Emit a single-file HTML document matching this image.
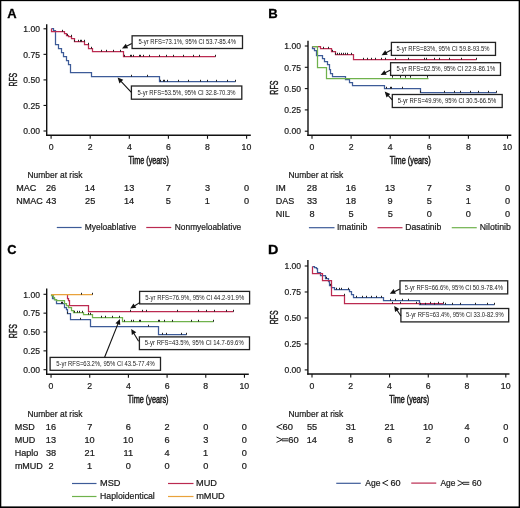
<!DOCTYPE html>
<html><head><meta charset="utf-8"><style>
html,body{margin:0;padding:0;background:#fff;width:520px;height:508px;overflow:hidden;}
svg{display:block;will-change:transform;}
text{font-family:"Liberation Sans",sans-serif;}
</style></head><body>
<svg width="520" height="508" viewBox="0 0 520 508">
<rect width="520" height="508" fill="#fff"/>
<text x="7.28" y="17.90" font-size="13.6" textLength="9.38" lengthAdjust="spacingAndGlyphs" fill="#000" font-weight="bold" stroke="#000" stroke-width="0.3">A</text>
<line x1="46.70" y1="24.30" x2="46.70" y2="136.00" stroke="#111" stroke-width="1.4"/>
<line x1="46.05" y1="135.30" x2="250.80" y2="135.30" stroke="#111" stroke-width="1.4"/>
<line x1="43.50" y1="131.00" x2="46.70" y2="131.00" stroke="#111" stroke-width="1.1"/>
<text x="23.28" y="134.20" font-size="9.2" textLength="16.65" lengthAdjust="spacingAndGlyphs" fill="#1a1a1a" stroke="#1a1a1a" stroke-width="0.22">0.00</text>
<line x1="43.50" y1="105.45" x2="46.70" y2="105.45" stroke="#111" stroke-width="1.1"/>
<text x="23.30" y="108.65" font-size="9.2" textLength="16.65" lengthAdjust="spacingAndGlyphs" fill="#1a1a1a" stroke="#1a1a1a" stroke-width="0.22">0.25</text>
<line x1="43.50" y1="79.90" x2="46.70" y2="79.90" stroke="#111" stroke-width="1.1"/>
<text x="23.28" y="83.10" font-size="9.2" textLength="16.65" lengthAdjust="spacingAndGlyphs" fill="#1a1a1a" stroke="#1a1a1a" stroke-width="0.22">0.50</text>
<line x1="43.50" y1="54.35" x2="46.70" y2="54.35" stroke="#111" stroke-width="1.1"/>
<text x="23.30" y="57.55" font-size="9.2" textLength="16.65" lengthAdjust="spacingAndGlyphs" fill="#1a1a1a" stroke="#1a1a1a" stroke-width="0.22">0.75</text>
<line x1="43.50" y1="28.80" x2="46.70" y2="28.80" stroke="#111" stroke-width="1.1"/>
<text x="23.28" y="32.00" font-size="9.2" textLength="16.65" lengthAdjust="spacingAndGlyphs" fill="#1a1a1a" stroke="#1a1a1a" stroke-width="0.22">1.00</text>
<line x1="51.10" y1="135.30" x2="51.10" y2="138.80" stroke="#111" stroke-width="1.1"/>
<text x="48.66" y="150.00" font-size="9.2" textLength="4.86" lengthAdjust="spacingAndGlyphs" fill="#1a1a1a" stroke="#1a1a1a" stroke-width="0.22">0</text>
<line x1="90.20" y1="135.30" x2="90.20" y2="138.80" stroke="#111" stroke-width="1.1"/>
<text x="87.77" y="150.00" font-size="9.2" textLength="4.86" lengthAdjust="spacingAndGlyphs" fill="#1a1a1a" stroke="#1a1a1a" stroke-width="0.22">2</text>
<line x1="129.30" y1="135.30" x2="129.30" y2="138.80" stroke="#111" stroke-width="1.1"/>
<text x="126.90" y="150.00" font-size="9.2" textLength="4.86" lengthAdjust="spacingAndGlyphs" fill="#1a1a1a" stroke="#1a1a1a" stroke-width="0.22">4</text>
<line x1="168.40" y1="135.30" x2="168.40" y2="138.80" stroke="#111" stroke-width="1.1"/>
<text x="165.94" y="150.00" font-size="9.2" textLength="4.86" lengthAdjust="spacingAndGlyphs" fill="#1a1a1a" stroke="#1a1a1a" stroke-width="0.22">6</text>
<line x1="207.50" y1="135.30" x2="207.50" y2="138.80" stroke="#111" stroke-width="1.1"/>
<text x="205.07" y="150.00" font-size="9.2" textLength="4.86" lengthAdjust="spacingAndGlyphs" fill="#1a1a1a" stroke="#1a1a1a" stroke-width="0.22">8</text>
<line x1="246.60" y1="135.30" x2="246.60" y2="138.80" stroke="#111" stroke-width="1.1"/>
<text x="241.59" y="150.00" font-size="9.2" textLength="9.72" lengthAdjust="spacingAndGlyphs" fill="#1a1a1a" stroke="#1a1a1a" stroke-width="0.22">10</text>
<text transform="translate(16.80,79.60) rotate(-90)" x="-6.96" y="0" font-size="11.0" textLength="13.67" lengthAdjust="spacingAndGlyphs" fill="#1a1a1a" stroke="#1a1a1a" stroke-width="0.45">RFS</text>
<text x="128.44" y="164.30" font-size="10.2" textLength="40.39" lengthAdjust="spacingAndGlyphs" fill="#1a1a1a" stroke="#1a1a1a" stroke-width="0.5">Time (years)</text>
<path d="M51.50 28.50H53.50V30.50H55.50V33.50H55.50V44.50H58.50V48.50H61.50V52.50H63.50V56.50H66.50V60.50H68.50V64.50H70.50V68.50H70.50V72.50H91.50V76.50H159.50V81.50H235.50" fill="none" stroke="#3d5b98" stroke-width="1.25"/>
<path d="M51.50 28.50H51.50V31.50H64.50V33.50H66.50V35.50H68.50V36.50H71.50V38.50H74.50V41.50H84.50V44.50H88.50V48.50H92.50V51.50H123.50V56.50H215.50" fill="none" stroke="#bb2a50" stroke-width="1.25"/>
<line x1="62.50" y1="29.80" x2="62.50" y2="31.70" stroke="#222" stroke-width="1.0"/>
<line x1="67.50" y1="33.80" x2="67.50" y2="35.70" stroke="#222" stroke-width="1.0"/>
<line x1="71.50" y1="34.80" x2="71.50" y2="36.70" stroke="#222" stroke-width="1.0"/>
<line x1="74.50" y1="39.80" x2="74.50" y2="41.70" stroke="#222" stroke-width="1.0"/>
<line x1="78.50" y1="39.80" x2="78.50" y2="41.70" stroke="#222" stroke-width="1.0"/>
<line x1="80.50" y1="39.80" x2="80.50" y2="41.70" stroke="#222" stroke-width="1.0"/>
<line x1="81.50" y1="39.80" x2="81.50" y2="41.70" stroke="#222" stroke-width="1.0"/>
<line x1="84.50" y1="39.80" x2="84.50" y2="41.70" stroke="#222" stroke-width="1.0"/>
<line x1="88.50" y1="42.80" x2="88.50" y2="44.70" stroke="#222" stroke-width="1.0"/>
<line x1="91.50" y1="46.80" x2="91.50" y2="48.70" stroke="#222" stroke-width="1.0"/>
<line x1="101.50" y1="49.80" x2="101.50" y2="51.70" stroke="#222" stroke-width="1.0"/>
<line x1="106.50" y1="49.80" x2="106.50" y2="51.70" stroke="#222" stroke-width="1.0"/>
<line x1="113.50" y1="49.80" x2="113.50" y2="51.70" stroke="#222" stroke-width="1.0"/>
<line x1="120.50" y1="49.80" x2="120.50" y2="51.70" stroke="#222" stroke-width="1.0"/>
<line x1="124.50" y1="54.80" x2="124.50" y2="56.70" stroke="#222" stroke-width="1.0"/>
<line x1="130.50" y1="54.80" x2="130.50" y2="56.70" stroke="#222" stroke-width="1.0"/>
<line x1="131.50" y1="54.80" x2="131.50" y2="56.70" stroke="#222" stroke-width="1.0"/>
<line x1="133.50" y1="54.80" x2="133.50" y2="56.70" stroke="#222" stroke-width="1.0"/>
<line x1="139.50" y1="54.80" x2="139.50" y2="56.70" stroke="#222" stroke-width="1.0"/>
<line x1="140.50" y1="54.80" x2="140.50" y2="56.70" stroke="#222" stroke-width="1.0"/>
<line x1="143.50" y1="54.80" x2="143.50" y2="56.70" stroke="#222" stroke-width="1.0"/>
<line x1="149.50" y1="54.80" x2="149.50" y2="56.70" stroke="#222" stroke-width="1.0"/>
<line x1="159.50" y1="54.80" x2="159.50" y2="56.70" stroke="#222" stroke-width="1.0"/>
<line x1="166.50" y1="54.80" x2="166.50" y2="56.70" stroke="#222" stroke-width="1.0"/>
<line x1="173.50" y1="54.80" x2="173.50" y2="56.70" stroke="#222" stroke-width="1.0"/>
<line x1="183.50" y1="54.80" x2="183.50" y2="56.70" stroke="#222" stroke-width="1.0"/>
<line x1="193.50" y1="54.80" x2="193.50" y2="56.70" stroke="#222" stroke-width="1.0"/>
<line x1="199.50" y1="54.80" x2="199.50" y2="56.70" stroke="#222" stroke-width="1.0"/>
<line x1="215.50" y1="54.80" x2="215.50" y2="56.70" stroke="#222" stroke-width="1.0"/>
<line x1="131.50" y1="74.80" x2="131.50" y2="76.70" stroke="#222" stroke-width="1.0"/>
<line x1="147.50" y1="74.80" x2="147.50" y2="76.70" stroke="#222" stroke-width="1.0"/>
<line x1="160.50" y1="79.80" x2="160.50" y2="81.70" stroke="#222" stroke-width="1.0"/>
<line x1="163.50" y1="79.80" x2="163.50" y2="81.70" stroke="#222" stroke-width="1.0"/>
<line x1="164.50" y1="79.80" x2="164.50" y2="81.70" stroke="#222" stroke-width="1.0"/>
<line x1="167.50" y1="79.80" x2="167.50" y2="81.70" stroke="#222" stroke-width="1.0"/>
<line x1="178.50" y1="79.80" x2="178.50" y2="81.70" stroke="#222" stroke-width="1.0"/>
<line x1="188.50" y1="79.80" x2="188.50" y2="81.70" stroke="#222" stroke-width="1.0"/>
<line x1="200.50" y1="79.80" x2="200.50" y2="81.70" stroke="#222" stroke-width="1.0"/>
<line x1="207.50" y1="79.80" x2="207.50" y2="81.70" stroke="#222" stroke-width="1.0"/>
<line x1="216.50" y1="79.80" x2="216.50" y2="81.70" stroke="#222" stroke-width="1.0"/>
<line x1="227.50" y1="79.80" x2="227.50" y2="81.70" stroke="#222" stroke-width="1.0"/>
<line x1="235.50" y1="79.80" x2="235.50" y2="81.70" stroke="#222" stroke-width="1.0"/>
<rect x="132.10" y="35.80" width="110.40" height="12.70" fill="#fff" stroke="#222" stroke-width="1.3"/>
<text x="138.52" y="44.35" font-size="6.3" textLength="97.44" lengthAdjust="spacingAndGlyphs" fill="#222">5-yr RFS=73.1%, 95% CI 53.7-85.4%</text>
<line x1="131.80" y1="43.60" x2="126.49" y2="46.20" stroke="#111" stroke-width="1.1"/>
<path d="M122.00 48.40L125.80 43.65L128.08 48.32Z" fill="#111"/>
<rect x="131.40" y="86.00" width="110.40" height="13.20" fill="#fff" stroke="#222" stroke-width="1.3"/>
<text x="137.56" y="94.80" font-size="6.3" textLength="97.94" lengthAdjust="spacingAndGlyphs" fill="#222">5-yr RFS=53.5%, 95% CI 32.8-70.3%</text>
<line x1="131.40" y1="92.40" x2="121.01" y2="81.26" stroke="#111" stroke-width="1.1"/>
<path d="M117.60 77.60L123.25 79.85L119.45 83.40Z" fill="#111"/>
<text x="27.50" y="177.90" font-size="9.0" textLength="54.99" lengthAdjust="spacingAndGlyphs" fill="#1a1a1a" stroke="#1a1a1a" stroke-width="0.22">Number at risk</text>
<text x="16.36" y="191.00" font-size="9.0" textLength="20.00" lengthAdjust="spacingAndGlyphs" fill="#1a1a1a" stroke="#1a1a1a" stroke-width="0.22">MAC</text>
<text x="45.97" y="191.00" font-size="9.0" textLength="10.21" lengthAdjust="spacingAndGlyphs" fill="#1a1a1a" stroke="#1a1a1a" stroke-width="0.22">26</text>
<text x="84.89" y="191.00" font-size="9.0" textLength="10.21" lengthAdjust="spacingAndGlyphs" fill="#1a1a1a" stroke="#1a1a1a" stroke-width="0.22">14</text>
<text x="124.06" y="191.00" font-size="9.0" textLength="10.21" lengthAdjust="spacingAndGlyphs" fill="#1a1a1a" stroke="#1a1a1a" stroke-width="0.22">13</text>
<text x="165.85" y="191.00" font-size="9.0" textLength="5.11" lengthAdjust="spacingAndGlyphs" fill="#1a1a1a" stroke="#1a1a1a" stroke-width="0.22">7</text>
<text x="204.98" y="191.00" font-size="9.0" textLength="5.11" lengthAdjust="spacingAndGlyphs" fill="#1a1a1a" stroke="#1a1a1a" stroke-width="0.22">3</text>
<text x="244.04" y="191.00" font-size="9.0" textLength="5.11" lengthAdjust="spacingAndGlyphs" fill="#1a1a1a" stroke="#1a1a1a" stroke-width="0.22">0</text>
<text x="16.36" y="203.90" font-size="9.0" textLength="26.50" lengthAdjust="spacingAndGlyphs" fill="#1a1a1a" stroke="#1a1a1a" stroke-width="0.22">NMAC</text>
<text x="46.10" y="203.90" font-size="9.0" textLength="10.21" lengthAdjust="spacingAndGlyphs" fill="#1a1a1a" stroke="#1a1a1a" stroke-width="0.22">43</text>
<text x="85.06" y="203.90" font-size="9.0" textLength="10.21" lengthAdjust="spacingAndGlyphs" fill="#1a1a1a" stroke="#1a1a1a" stroke-width="0.22">25</text>
<text x="123.99" y="203.90" font-size="9.0" textLength="10.21" lengthAdjust="spacingAndGlyphs" fill="#1a1a1a" stroke="#1a1a1a" stroke-width="0.22">14</text>
<text x="165.85" y="203.90" font-size="9.0" textLength="5.11" lengthAdjust="spacingAndGlyphs" fill="#1a1a1a" stroke="#1a1a1a" stroke-width="0.22">5</text>
<text x="204.83" y="203.90" font-size="9.0" textLength="5.11" lengthAdjust="spacingAndGlyphs" fill="#1a1a1a" stroke="#1a1a1a" stroke-width="0.22">1</text>
<text x="244.04" y="203.90" font-size="9.0" textLength="5.11" lengthAdjust="spacingAndGlyphs" fill="#1a1a1a" stroke="#1a1a1a" stroke-width="0.22">0</text>
<line x1="56.80" y1="227.50" x2="81.60" y2="227.50" stroke="#3d5b98" stroke-width="1.2"/>
<text x="84.81" y="230.20" font-size="9.4" textLength="51.32" lengthAdjust="spacingAndGlyphs" fill="#1a1a1a" stroke="#1a1a1a" stroke-width="0.22">Myeloablative</text>
<line x1="146.25" y1="227.50" x2="171.25" y2="227.50" stroke="#bb2a50" stroke-width="1.2"/>
<text x="174.81" y="230.20" font-size="9.4" textLength="66.46" lengthAdjust="spacingAndGlyphs" fill="#1a1a1a" stroke="#1a1a1a" stroke-width="0.22">Nonmyeloablative</text>
<text x="268.21" y="17.90" font-size="13.6" textLength="9.47" lengthAdjust="spacingAndGlyphs" fill="#000" font-weight="bold" stroke="#000" stroke-width="0.3">B</text>
<line x1="308.00" y1="40.80" x2="308.00" y2="135.90" stroke="#111" stroke-width="1.4"/>
<line x1="307.35" y1="135.20" x2="511.30" y2="135.20" stroke="#111" stroke-width="1.4"/>
<line x1="304.80" y1="131.20" x2="308.00" y2="131.20" stroke="#111" stroke-width="1.1"/>
<text x="284.28" y="134.40" font-size="9.2" textLength="16.65" lengthAdjust="spacingAndGlyphs" fill="#1a1a1a" stroke="#1a1a1a" stroke-width="0.22">0.00</text>
<line x1="304.80" y1="109.90" x2="308.00" y2="109.90" stroke="#111" stroke-width="1.1"/>
<text x="284.30" y="113.10" font-size="9.2" textLength="16.65" lengthAdjust="spacingAndGlyphs" fill="#1a1a1a" stroke="#1a1a1a" stroke-width="0.22">0.25</text>
<line x1="304.80" y1="88.60" x2="308.00" y2="88.60" stroke="#111" stroke-width="1.1"/>
<text x="284.28" y="91.80" font-size="9.2" textLength="16.65" lengthAdjust="spacingAndGlyphs" fill="#1a1a1a" stroke="#1a1a1a" stroke-width="0.22">0.50</text>
<line x1="304.80" y1="67.30" x2="308.00" y2="67.30" stroke="#111" stroke-width="1.1"/>
<text x="284.30" y="70.50" font-size="9.2" textLength="16.65" lengthAdjust="spacingAndGlyphs" fill="#1a1a1a" stroke="#1a1a1a" stroke-width="0.22">0.75</text>
<line x1="304.80" y1="46.00" x2="308.00" y2="46.00" stroke="#111" stroke-width="1.1"/>
<text x="284.28" y="49.20" font-size="9.2" textLength="16.65" lengthAdjust="spacingAndGlyphs" fill="#1a1a1a" stroke="#1a1a1a" stroke-width="0.22">1.00</text>
<line x1="312.00" y1="135.20" x2="312.00" y2="138.70" stroke="#111" stroke-width="1.1"/>
<text x="309.56" y="150.00" font-size="9.2" textLength="4.86" lengthAdjust="spacingAndGlyphs" fill="#1a1a1a" stroke="#1a1a1a" stroke-width="0.22">0</text>
<line x1="351.10" y1="135.20" x2="351.10" y2="138.70" stroke="#111" stroke-width="1.1"/>
<text x="348.67" y="150.00" font-size="9.2" textLength="4.86" lengthAdjust="spacingAndGlyphs" fill="#1a1a1a" stroke="#1a1a1a" stroke-width="0.22">2</text>
<line x1="390.20" y1="135.20" x2="390.20" y2="138.70" stroke="#111" stroke-width="1.1"/>
<text x="387.80" y="150.00" font-size="9.2" textLength="4.86" lengthAdjust="spacingAndGlyphs" fill="#1a1a1a" stroke="#1a1a1a" stroke-width="0.22">4</text>
<line x1="429.30" y1="135.20" x2="429.30" y2="138.70" stroke="#111" stroke-width="1.1"/>
<text x="426.84" y="150.00" font-size="9.2" textLength="4.86" lengthAdjust="spacingAndGlyphs" fill="#1a1a1a" stroke="#1a1a1a" stroke-width="0.22">6</text>
<line x1="468.40" y1="135.20" x2="468.40" y2="138.70" stroke="#111" stroke-width="1.1"/>
<text x="465.97" y="150.00" font-size="9.2" textLength="4.86" lengthAdjust="spacingAndGlyphs" fill="#1a1a1a" stroke="#1a1a1a" stroke-width="0.22">8</text>
<line x1="507.50" y1="135.20" x2="507.50" y2="138.70" stroke="#111" stroke-width="1.1"/>
<text x="502.49" y="150.00" font-size="9.2" textLength="9.72" lengthAdjust="spacingAndGlyphs" fill="#1a1a1a" stroke="#1a1a1a" stroke-width="0.22">10</text>
<text transform="translate(278.00,87.50) rotate(-90)" x="-7.18" y="0" font-size="11.0" textLength="14.10" lengthAdjust="spacingAndGlyphs" fill="#1a1a1a" stroke="#1a1a1a" stroke-width="0.45">RFS</text>
<text x="389.73" y="164.30" font-size="10.2" textLength="40.90" lengthAdjust="spacingAndGlyphs" fill="#1a1a1a" stroke="#1a1a1a" stroke-width="0.5">Time (years)</text>
<path d="M312.50 46.50H312.50V48.50H314.50V50.50H316.50V55.50H322.50V58.50H324.50V61.50H327.50V64.50H329.50V69.50H330.50V73.50H332.50V76.50H345.50V79.50H349.50V82.50H352.50V85.50H384.50V88.50H420.50V92.50H496.50" fill="none" stroke="#3d5b98" stroke-width="1.25"/>
<path d="M312.50 46.50H320.50V48.50H331.50V51.50H335.50V54.50H353.50V59.50H476.50" fill="none" stroke="#bb2a50" stroke-width="1.25"/>
<path d="M312.50 46.50H317.50V67.50H326.50V78.50H428.50" fill="none" stroke="#6fb24c" stroke-width="1.25"/>
<line x1="337.50" y1="52.80" x2="337.50" y2="54.70" stroke="#222" stroke-width="1.0"/>
<line x1="339.50" y1="52.80" x2="339.50" y2="54.70" stroke="#222" stroke-width="1.0"/>
<line x1="341.50" y1="52.80" x2="341.50" y2="54.70" stroke="#222" stroke-width="1.0"/>
<line x1="343.50" y1="52.80" x2="343.50" y2="54.70" stroke="#222" stroke-width="1.0"/>
<line x1="345.50" y1="52.80" x2="345.50" y2="54.70" stroke="#222" stroke-width="1.0"/>
<line x1="347.50" y1="52.80" x2="347.50" y2="54.70" stroke="#222" stroke-width="1.0"/>
<line x1="351.50" y1="52.80" x2="351.50" y2="54.70" stroke="#222" stroke-width="1.0"/>
<line x1="363.50" y1="57.80" x2="363.50" y2="59.70" stroke="#222" stroke-width="1.0"/>
<line x1="367.50" y1="57.80" x2="367.50" y2="59.70" stroke="#222" stroke-width="1.0"/>
<line x1="371.50" y1="57.80" x2="371.50" y2="59.70" stroke="#222" stroke-width="1.0"/>
<line x1="375.50" y1="57.80" x2="375.50" y2="59.70" stroke="#222" stroke-width="1.0"/>
<line x1="381.50" y1="57.80" x2="381.50" y2="59.70" stroke="#222" stroke-width="1.0"/>
<line x1="385.50" y1="57.80" x2="385.50" y2="59.70" stroke="#222" stroke-width="1.0"/>
<line x1="395.50" y1="57.80" x2="395.50" y2="59.70" stroke="#222" stroke-width="1.0"/>
<line x1="408.50" y1="57.80" x2="408.50" y2="59.70" stroke="#222" stroke-width="1.0"/>
<line x1="424.50" y1="57.80" x2="424.50" y2="59.70" stroke="#222" stroke-width="1.0"/>
<line x1="426.50" y1="57.80" x2="426.50" y2="59.70" stroke="#222" stroke-width="1.0"/>
<line x1="434.50" y1="57.80" x2="434.50" y2="59.70" stroke="#222" stroke-width="1.0"/>
<line x1="439.50" y1="57.80" x2="439.50" y2="59.70" stroke="#222" stroke-width="1.0"/>
<line x1="449.50" y1="57.80" x2="449.50" y2="59.70" stroke="#222" stroke-width="1.0"/>
<line x1="461.50" y1="57.80" x2="461.50" y2="59.70" stroke="#222" stroke-width="1.0"/>
<line x1="476.50" y1="57.80" x2="476.50" y2="59.70" stroke="#222" stroke-width="1.0"/>
<line x1="323.50" y1="46.80" x2="323.50" y2="48.70" stroke="#222" stroke-width="1.0"/>
<line x1="328.50" y1="46.80" x2="328.50" y2="48.70" stroke="#222" stroke-width="1.0"/>
<line x1="332.50" y1="49.80" x2="332.50" y2="51.70" stroke="#222" stroke-width="1.0"/>
<line x1="335.50" y1="52.80" x2="335.50" y2="54.70" stroke="#222" stroke-width="1.0"/>
<line x1="392.50" y1="75.80" x2="392.50" y2="77.70" stroke="#222" stroke-width="1.0"/>
<line x1="400.50" y1="75.80" x2="400.50" y2="77.70" stroke="#222" stroke-width="1.0"/>
<line x1="405.50" y1="75.80" x2="405.50" y2="77.70" stroke="#222" stroke-width="1.0"/>
<line x1="410.50" y1="75.80" x2="410.50" y2="77.70" stroke="#222" stroke-width="1.0"/>
<line x1="427.50" y1="75.80" x2="427.50" y2="77.70" stroke="#222" stroke-width="1.0"/>
<line x1="386.50" y1="86.80" x2="386.50" y2="88.70" stroke="#222" stroke-width="1.0"/>
<line x1="390.50" y1="86.80" x2="390.50" y2="88.70" stroke="#222" stroke-width="1.0"/>
<line x1="391.50" y1="86.80" x2="391.50" y2="88.70" stroke="#222" stroke-width="1.0"/>
<line x1="402.50" y1="86.80" x2="402.50" y2="88.70" stroke="#222" stroke-width="1.0"/>
<line x1="420.50" y1="90.80" x2="420.50" y2="92.70" stroke="#222" stroke-width="1.0"/>
<line x1="444.50" y1="90.80" x2="444.50" y2="92.70" stroke="#222" stroke-width="1.0"/>
<line x1="454.50" y1="90.80" x2="454.50" y2="92.70" stroke="#222" stroke-width="1.0"/>
<line x1="460.50" y1="90.80" x2="460.50" y2="92.70" stroke="#222" stroke-width="1.0"/>
<line x1="470.50" y1="90.80" x2="470.50" y2="92.70" stroke="#222" stroke-width="1.0"/>
<line x1="478.50" y1="90.80" x2="478.50" y2="92.70" stroke="#222" stroke-width="1.0"/>
<line x1="488.50" y1="90.80" x2="488.50" y2="92.70" stroke="#222" stroke-width="1.0"/>
<line x1="496.50" y1="90.80" x2="496.50" y2="92.70" stroke="#222" stroke-width="1.0"/>
<rect x="391.40" y="42.40" width="104.10" height="13.00" fill="#fff" stroke="#222" stroke-width="1.3"/>
<text x="396.51" y="51.10" font-size="6.3" textLength="92.93" lengthAdjust="spacingAndGlyphs" fill="#222">5-yr RFS=83%, 95% CI 59.8-93.5%</text>
<line x1="391.20" y1="50.00" x2="386.00" y2="52.82" stroke="#111" stroke-width="1.1"/>
<path d="M381.60 55.20L385.20 50.29L387.67 54.87Z" fill="#111"/>
<rect x="390.60" y="62.70" width="109.90" height="12.70" fill="#fff" stroke="#222" stroke-width="1.3"/>
<text x="396.51" y="71.25" font-size="6.3" textLength="98.69" lengthAdjust="spacingAndGlyphs" fill="#222">5-yr RFS=62.5%, 95% CI 22.9-86.1%</text>
<line x1="390.60" y1="70.00" x2="385.09" y2="72.70" stroke="#111" stroke-width="1.1"/>
<path d="M380.60 74.90L384.39 70.15L386.68 74.81Z" fill="#111"/>
<rect x="392.30" y="94.50" width="109.90" height="13.00" fill="#fff" stroke="#222" stroke-width="1.3"/>
<text x="397.76" y="103.20" font-size="6.3" textLength="98.44" lengthAdjust="spacingAndGlyphs" fill="#222">5-yr RFS=49.9%, 95% CI 30.5-66.5%</text>
<line x1="392.20" y1="99.80" x2="388.07" y2="95.29" stroke="#111" stroke-width="1.1"/>
<path d="M384.70 91.60L390.33 93.90L386.49 97.41Z" fill="#111"/>
<text x="288.56" y="177.70" font-size="9.0" textLength="54.69" lengthAdjust="spacingAndGlyphs" fill="#1a1a1a" stroke="#1a1a1a" stroke-width="0.22">Number at risk</text>
<text x="275.67" y="190.80" font-size="9.0" textLength="10.00" lengthAdjust="spacingAndGlyphs" fill="#1a1a1a" stroke="#1a1a1a" stroke-width="0.22">IM</text>
<text x="306.87" y="190.80" font-size="9.0" textLength="10.21" lengthAdjust="spacingAndGlyphs" fill="#1a1a1a" stroke="#1a1a1a" stroke-width="0.22">28</text>
<text x="345.86" y="190.80" font-size="9.0" textLength="10.21" lengthAdjust="spacingAndGlyphs" fill="#1a1a1a" stroke="#1a1a1a" stroke-width="0.22">16</text>
<text x="384.96" y="190.80" font-size="9.0" textLength="10.21" lengthAdjust="spacingAndGlyphs" fill="#1a1a1a" stroke="#1a1a1a" stroke-width="0.22">13</text>
<text x="426.75" y="190.80" font-size="9.0" textLength="5.11" lengthAdjust="spacingAndGlyphs" fill="#1a1a1a" stroke="#1a1a1a" stroke-width="0.22">7</text>
<text x="465.88" y="190.80" font-size="9.0" textLength="5.11" lengthAdjust="spacingAndGlyphs" fill="#1a1a1a" stroke="#1a1a1a" stroke-width="0.22">3</text>
<text x="504.94" y="190.80" font-size="9.0" textLength="5.11" lengthAdjust="spacingAndGlyphs" fill="#1a1a1a" stroke="#1a1a1a" stroke-width="0.22">0</text>
<text x="275.76" y="204.00" font-size="9.0" textLength="18.51" lengthAdjust="spacingAndGlyphs" fill="#1a1a1a" stroke="#1a1a1a" stroke-width="0.22">DAS</text>
<text x="306.93" y="204.00" font-size="9.0" textLength="10.21" lengthAdjust="spacingAndGlyphs" fill="#1a1a1a" stroke="#1a1a1a" stroke-width="0.22">33</text>
<text x="345.86" y="204.00" font-size="9.0" textLength="10.21" lengthAdjust="spacingAndGlyphs" fill="#1a1a1a" stroke="#1a1a1a" stroke-width="0.22">18</text>
<text x="387.64" y="204.00" font-size="9.0" textLength="5.11" lengthAdjust="spacingAndGlyphs" fill="#1a1a1a" stroke="#1a1a1a" stroke-width="0.22">9</text>
<text x="426.75" y="204.00" font-size="9.0" textLength="5.11" lengthAdjust="spacingAndGlyphs" fill="#1a1a1a" stroke="#1a1a1a" stroke-width="0.22">5</text>
<text x="465.73" y="204.00" font-size="9.0" textLength="5.11" lengthAdjust="spacingAndGlyphs" fill="#1a1a1a" stroke="#1a1a1a" stroke-width="0.22">1</text>
<text x="504.94" y="204.00" font-size="9.0" textLength="5.11" lengthAdjust="spacingAndGlyphs" fill="#1a1a1a" stroke="#1a1a1a" stroke-width="0.22">0</text>
<text x="275.76" y="217.20" font-size="9.0" textLength="14.01" lengthAdjust="spacingAndGlyphs" fill="#1a1a1a" stroke="#1a1a1a" stroke-width="0.22">NIL</text>
<text x="309.45" y="217.20" font-size="9.0" textLength="5.11" lengthAdjust="spacingAndGlyphs" fill="#1a1a1a" stroke="#1a1a1a" stroke-width="0.22">8</text>
<text x="348.55" y="217.20" font-size="9.0" textLength="5.11" lengthAdjust="spacingAndGlyphs" fill="#1a1a1a" stroke="#1a1a1a" stroke-width="0.22">5</text>
<text x="387.65" y="217.20" font-size="9.0" textLength="5.11" lengthAdjust="spacingAndGlyphs" fill="#1a1a1a" stroke="#1a1a1a" stroke-width="0.22">5</text>
<text x="426.74" y="217.20" font-size="9.0" textLength="5.11" lengthAdjust="spacingAndGlyphs" fill="#1a1a1a" stroke="#1a1a1a" stroke-width="0.22">0</text>
<text x="465.84" y="217.20" font-size="9.0" textLength="5.11" lengthAdjust="spacingAndGlyphs" fill="#1a1a1a" stroke="#1a1a1a" stroke-width="0.22">0</text>
<text x="504.94" y="217.20" font-size="9.0" textLength="5.11" lengthAdjust="spacingAndGlyphs" fill="#1a1a1a" stroke="#1a1a1a" stroke-width="0.22">0</text>
<line x1="308.90" y1="227.70" x2="334.50" y2="227.70" stroke="#3d5b98" stroke-width="1.2"/>
<text x="336.90" y="230.40" font-size="9.4" textLength="30.47" lengthAdjust="spacingAndGlyphs" fill="#1a1a1a" stroke="#1a1a1a" stroke-width="0.22">Imatinib</text>
<line x1="377.50" y1="227.70" x2="402.50" y2="227.70" stroke="#bb2a50" stroke-width="1.2"/>
<text x="405.29" y="230.40" font-size="9.4" textLength="36.07" lengthAdjust="spacingAndGlyphs" fill="#1a1a1a" stroke="#1a1a1a" stroke-width="0.22">Dasatinib</text>
<line x1="451.75" y1="227.70" x2="476.75" y2="227.70" stroke="#6fb24c" stroke-width="1.2"/>
<text x="479.78" y="230.40" font-size="9.4" textLength="31.09" lengthAdjust="spacingAndGlyphs" fill="#1a1a1a" stroke="#1a1a1a" stroke-width="0.22">Nilotinib</text>
<text x="7.19" y="254.00" font-size="13.6" textLength="9.26" lengthAdjust="spacingAndGlyphs" fill="#000" font-weight="bold" stroke="#000" stroke-width="0.3">C</text>
<line x1="46.70" y1="288.60" x2="46.70" y2="374.90" stroke="#111" stroke-width="1.4"/>
<line x1="46.05" y1="374.20" x2="248.80" y2="374.20" stroke="#111" stroke-width="1.4"/>
<line x1="43.50" y1="369.70" x2="46.70" y2="369.70" stroke="#111" stroke-width="1.1"/>
<text x="23.28" y="372.90" font-size="9.2" textLength="16.65" lengthAdjust="spacingAndGlyphs" fill="#1a1a1a" stroke="#1a1a1a" stroke-width="0.22">0.00</text>
<line x1="43.50" y1="350.85" x2="46.70" y2="350.85" stroke="#111" stroke-width="1.1"/>
<text x="23.30" y="354.05" font-size="9.2" textLength="16.65" lengthAdjust="spacingAndGlyphs" fill="#1a1a1a" stroke="#1a1a1a" stroke-width="0.22">0.25</text>
<line x1="43.50" y1="332.00" x2="46.70" y2="332.00" stroke="#111" stroke-width="1.1"/>
<text x="23.28" y="335.20" font-size="9.2" textLength="16.65" lengthAdjust="spacingAndGlyphs" fill="#1a1a1a" stroke="#1a1a1a" stroke-width="0.22">0.50</text>
<line x1="43.50" y1="313.15" x2="46.70" y2="313.15" stroke="#111" stroke-width="1.1"/>
<text x="23.30" y="316.35" font-size="9.2" textLength="16.65" lengthAdjust="spacingAndGlyphs" fill="#1a1a1a" stroke="#1a1a1a" stroke-width="0.22">0.75</text>
<line x1="43.50" y1="294.30" x2="46.70" y2="294.30" stroke="#111" stroke-width="1.1"/>
<text x="23.28" y="297.50" font-size="9.2" textLength="16.65" lengthAdjust="spacingAndGlyphs" fill="#1a1a1a" stroke="#1a1a1a" stroke-width="0.22">1.00</text>
<line x1="51.05" y1="374.20" x2="51.05" y2="377.70" stroke="#111" stroke-width="1.1"/>
<text x="48.61" y="388.80" font-size="9.2" textLength="4.86" lengthAdjust="spacingAndGlyphs" fill="#1a1a1a" stroke="#1a1a1a" stroke-width="0.22">0</text>
<line x1="89.73" y1="374.20" x2="89.73" y2="377.70" stroke="#111" stroke-width="1.1"/>
<text x="87.30" y="388.80" font-size="9.2" textLength="4.86" lengthAdjust="spacingAndGlyphs" fill="#1a1a1a" stroke="#1a1a1a" stroke-width="0.22">2</text>
<line x1="128.41" y1="374.20" x2="128.41" y2="377.70" stroke="#111" stroke-width="1.1"/>
<text x="126.01" y="388.80" font-size="9.2" textLength="4.86" lengthAdjust="spacingAndGlyphs" fill="#1a1a1a" stroke="#1a1a1a" stroke-width="0.22">4</text>
<line x1="167.09" y1="374.20" x2="167.09" y2="377.70" stroke="#111" stroke-width="1.1"/>
<text x="164.63" y="388.80" font-size="9.2" textLength="4.86" lengthAdjust="spacingAndGlyphs" fill="#1a1a1a" stroke="#1a1a1a" stroke-width="0.22">6</text>
<line x1="205.77" y1="374.20" x2="205.77" y2="377.70" stroke="#111" stroke-width="1.1"/>
<text x="203.34" y="388.80" font-size="9.2" textLength="4.86" lengthAdjust="spacingAndGlyphs" fill="#1a1a1a" stroke="#1a1a1a" stroke-width="0.22">8</text>
<line x1="244.45" y1="374.20" x2="244.45" y2="377.70" stroke="#111" stroke-width="1.1"/>
<text x="239.44" y="388.80" font-size="9.2" textLength="9.72" lengthAdjust="spacingAndGlyphs" fill="#1a1a1a" stroke="#1a1a1a" stroke-width="0.22">10</text>
<text transform="translate(16.80,331.00) rotate(-90)" x="-7.18" y="0" font-size="11.0" textLength="14.10" lengthAdjust="spacingAndGlyphs" fill="#1a1a1a" stroke="#1a1a1a" stroke-width="0.45">RFS</text>
<text x="127.84" y="403.00" font-size="10.2" textLength="40.70" lengthAdjust="spacingAndGlyphs" fill="#1a1a1a" stroke="#1a1a1a" stroke-width="0.5">Time (years)</text>
<path d="M51.50 294.50H52.50V298.50H54.50V299.50H56.50V303.50H64.50V307.50H66.50V309.50H67.50V313.50H70.50V319.50H90.50V326.50H158.50V334.50H186.50" fill="none" stroke="#3d5b98" stroke-width="1.25"/>
<path d="M51.50 294.50H51.50V295.50H53.50V297.50H54.50V299.50H56.50V300.50H64.50V303.50H66.50V305.50H68.50V307.50H71.50V310.50H73.50V312.50H83.50V314.50H92.50V317.50H122.50V321.50H213.50" fill="none" stroke="#6fb24c" stroke-width="1.25"/>
<path d="M67.50 294.50H67.50V298.50H68.50V300.50H69.50V305.50H88.50V311.50H233.50" fill="none" stroke="#bb2a50" stroke-width="1.25"/>
<path d="M51.50 294.50H92.50" fill="none" stroke="#e9a23b" stroke-width="1.25"/>
<line x1="81.50" y1="292.80" x2="81.50" y2="294.70" stroke="#222" stroke-width="1.0"/>
<line x1="92.50" y1="292.80" x2="92.50" y2="294.70" stroke="#222" stroke-width="1.0"/>
<line x1="130.50" y1="309.80" x2="130.50" y2="311.70" stroke="#222" stroke-width="1.0"/>
<line x1="142.50" y1="309.80" x2="142.50" y2="311.70" stroke="#222" stroke-width="1.0"/>
<line x1="146.50" y1="309.80" x2="146.50" y2="311.70" stroke="#222" stroke-width="1.0"/>
<line x1="177.50" y1="309.80" x2="177.50" y2="311.70" stroke="#222" stroke-width="1.0"/>
<line x1="198.50" y1="309.80" x2="198.50" y2="311.70" stroke="#222" stroke-width="1.0"/>
<line x1="206.50" y1="309.80" x2="206.50" y2="311.70" stroke="#222" stroke-width="1.0"/>
<line x1="214.50" y1="309.80" x2="214.50" y2="311.70" stroke="#222" stroke-width="1.0"/>
<line x1="226.50" y1="309.80" x2="226.50" y2="311.70" stroke="#222" stroke-width="1.0"/>
<line x1="233.50" y1="309.80" x2="233.50" y2="311.70" stroke="#222" stroke-width="1.0"/>
<line x1="61.50" y1="301.80" x2="61.50" y2="303.70" stroke="#222" stroke-width="1.0"/>
<line x1="62.50" y1="301.80" x2="62.50" y2="303.70" stroke="#222" stroke-width="1.0"/>
<line x1="74.50" y1="310.80" x2="74.50" y2="312.70" stroke="#222" stroke-width="1.0"/>
<line x1="77.50" y1="310.80" x2="77.50" y2="312.70" stroke="#222" stroke-width="1.0"/>
<line x1="79.50" y1="310.80" x2="79.50" y2="312.70" stroke="#222" stroke-width="1.0"/>
<line x1="82.50" y1="310.80" x2="82.50" y2="312.70" stroke="#222" stroke-width="1.0"/>
<line x1="88.50" y1="312.80" x2="88.50" y2="314.70" stroke="#222" stroke-width="1.0"/>
<line x1="90.50" y1="312.80" x2="90.50" y2="314.70" stroke="#222" stroke-width="1.0"/>
<line x1="101.50" y1="315.80" x2="101.50" y2="317.70" stroke="#222" stroke-width="1.0"/>
<line x1="105.50" y1="315.80" x2="105.50" y2="317.70" stroke="#222" stroke-width="1.0"/>
<line x1="112.50" y1="315.80" x2="112.50" y2="317.70" stroke="#222" stroke-width="1.0"/>
<line x1="119.50" y1="315.80" x2="119.50" y2="317.70" stroke="#222" stroke-width="1.0"/>
<line x1="124.50" y1="319.80" x2="124.50" y2="321.70" stroke="#222" stroke-width="1.0"/>
<line x1="131.50" y1="319.80" x2="131.50" y2="321.70" stroke="#222" stroke-width="1.0"/>
<line x1="133.50" y1="319.80" x2="133.50" y2="321.70" stroke="#222" stroke-width="1.0"/>
<line x1="139.50" y1="319.80" x2="139.50" y2="321.70" stroke="#222" stroke-width="1.0"/>
<line x1="140.50" y1="319.80" x2="140.50" y2="321.70" stroke="#222" stroke-width="1.0"/>
<line x1="159.50" y1="319.80" x2="159.50" y2="321.70" stroke="#222" stroke-width="1.0"/>
<line x1="158.50" y1="319.80" x2="158.50" y2="321.70" stroke="#222" stroke-width="1.0"/>
<line x1="164.50" y1="319.80" x2="164.50" y2="321.70" stroke="#222" stroke-width="1.0"/>
<line x1="172.50" y1="319.80" x2="172.50" y2="321.70" stroke="#222" stroke-width="1.0"/>
<line x1="191.50" y1="319.80" x2="191.50" y2="321.70" stroke="#222" stroke-width="1.0"/>
<line x1="198.50" y1="319.80" x2="198.50" y2="321.70" stroke="#222" stroke-width="1.0"/>
<line x1="213.50" y1="319.80" x2="213.50" y2="321.70" stroke="#222" stroke-width="1.0"/>
<line x1="67.50" y1="311.80" x2="67.50" y2="313.70" stroke="#222" stroke-width="1.0"/>
<line x1="80.50" y1="317.80" x2="80.50" y2="319.70" stroke="#222" stroke-width="1.0"/>
<line x1="148.50" y1="324.80" x2="148.50" y2="326.70" stroke="#222" stroke-width="1.0"/>
<line x1="162.50" y1="332.80" x2="162.50" y2="334.70" stroke="#222" stroke-width="1.0"/>
<line x1="166.50" y1="332.80" x2="166.50" y2="334.70" stroke="#222" stroke-width="1.0"/>
<line x1="181.50" y1="332.80" x2="181.50" y2="334.70" stroke="#222" stroke-width="1.0"/>
<line x1="186.50" y1="332.80" x2="186.50" y2="334.70" stroke="#222" stroke-width="1.0"/>
<rect x="139.60" y="291.40" width="110.00" height="12.50" fill="#fff" stroke="#222" stroke-width="1.3"/>
<text x="145.26" y="299.85" font-size="6.3" textLength="98.95" lengthAdjust="spacingAndGlyphs" fill="#222">5-yr RFS=76.9%, 95% CI 44.2-91.9%</text>
<line x1="140.00" y1="302.40" x2="134.43" y2="305.93" stroke="#111" stroke-width="1.1"/>
<path d="M130.20 308.60L133.46 303.46L136.24 307.86Z" fill="#111"/>
<rect x="139.40" y="336.90" width="110.10" height="12.70" fill="#fff" stroke="#222" stroke-width="1.3"/>
<text x="144.76" y="345.45" font-size="6.3" textLength="98.95" lengthAdjust="spacingAndGlyphs" fill="#222">5-yr RFS=43.5%, 95% CI 14.7-69.6%</text>
<line x1="138.60" y1="341.20" x2="133.79" y2="333.28" stroke="#111" stroke-width="1.1"/>
<path d="M131.20 329.00L136.28 332.35L131.83 335.05Z" fill="#111"/>
<rect x="50.10" y="357.40" width="110.40" height="12.90" fill="#fff" stroke="#222" stroke-width="1.3"/>
<text x="56.26" y="366.05" font-size="6.3" textLength="98.44" lengthAdjust="spacingAndGlyphs" fill="#222">5-yr RFS=63.2%, 95% CI 43.5-77.4%</text>
<line x1="104.60" y1="357.20" x2="118.04" y2="323.64" stroke="#111" stroke-width="1.1"/>
<path d="M119.90 319.00L120.27 325.07L115.44 323.14Z" fill="#111"/>
<text x="27.50" y="416.60" font-size="9.0" textLength="54.99" lengthAdjust="spacingAndGlyphs" fill="#1a1a1a" stroke="#1a1a1a" stroke-width="0.22">Number at risk</text>
<text x="14.76" y="429.60" font-size="9.0" textLength="20.00" lengthAdjust="spacingAndGlyphs" fill="#1a1a1a" stroke="#1a1a1a" stroke-width="0.22">MSD</text>
<text x="45.81" y="429.60" font-size="9.0" textLength="10.21" lengthAdjust="spacingAndGlyphs" fill="#1a1a1a" stroke="#1a1a1a" stroke-width="0.22">16</text>
<text x="87.18" y="429.60" font-size="9.0" textLength="5.11" lengthAdjust="spacingAndGlyphs" fill="#1a1a1a" stroke="#1a1a1a" stroke-width="0.22">7</text>
<text x="125.83" y="429.60" font-size="9.0" textLength="5.11" lengthAdjust="spacingAndGlyphs" fill="#1a1a1a" stroke="#1a1a1a" stroke-width="0.22">6</text>
<text x="164.54" y="429.60" font-size="9.0" textLength="5.11" lengthAdjust="spacingAndGlyphs" fill="#1a1a1a" stroke="#1a1a1a" stroke-width="0.22">2</text>
<text x="203.21" y="429.60" font-size="9.0" textLength="5.11" lengthAdjust="spacingAndGlyphs" fill="#1a1a1a" stroke="#1a1a1a" stroke-width="0.22">0</text>
<text x="241.89" y="429.60" font-size="9.0" textLength="5.11" lengthAdjust="spacingAndGlyphs" fill="#1a1a1a" stroke="#1a1a1a" stroke-width="0.22">0</text>
<text x="14.76" y="442.80" font-size="9.0" textLength="20.50" lengthAdjust="spacingAndGlyphs" fill="#1a1a1a" stroke="#1a1a1a" stroke-width="0.22">MUD</text>
<text x="45.81" y="442.80" font-size="9.0" textLength="10.21" lengthAdjust="spacingAndGlyphs" fill="#1a1a1a" stroke="#1a1a1a" stroke-width="0.22">13</text>
<text x="84.46" y="442.80" font-size="9.0" textLength="10.21" lengthAdjust="spacingAndGlyphs" fill="#1a1a1a" stroke="#1a1a1a" stroke-width="0.22">10</text>
<text x="123.14" y="442.80" font-size="9.0" textLength="10.21" lengthAdjust="spacingAndGlyphs" fill="#1a1a1a" stroke="#1a1a1a" stroke-width="0.22">10</text>
<text x="164.51" y="442.80" font-size="9.0" textLength="5.11" lengthAdjust="spacingAndGlyphs" fill="#1a1a1a" stroke="#1a1a1a" stroke-width="0.22">6</text>
<text x="203.25" y="442.80" font-size="9.0" textLength="5.11" lengthAdjust="spacingAndGlyphs" fill="#1a1a1a" stroke="#1a1a1a" stroke-width="0.22">3</text>
<text x="241.89" y="442.80" font-size="9.0" textLength="5.11" lengthAdjust="spacingAndGlyphs" fill="#1a1a1a" stroke="#1a1a1a" stroke-width="0.22">0</text>
<text x="14.76" y="456.00" font-size="9.0" textLength="23.52" lengthAdjust="spacingAndGlyphs" fill="#1a1a1a" stroke="#1a1a1a" stroke-width="0.22">Haplo</text>
<text x="45.98" y="456.00" font-size="9.0" textLength="10.21" lengthAdjust="spacingAndGlyphs" fill="#1a1a1a" stroke="#1a1a1a" stroke-width="0.22">38</text>
<text x="84.62" y="456.00" font-size="9.0" textLength="10.21" lengthAdjust="spacingAndGlyphs" fill="#1a1a1a" stroke="#1a1a1a" stroke-width="0.22">21</text>
<text x="123.52" y="456.00" font-size="9.0" textLength="9.53" lengthAdjust="spacingAndGlyphs" fill="#1a1a1a" stroke="#1a1a1a" stroke-width="0.22">11</text>
<text x="164.57" y="456.00" font-size="9.0" textLength="5.11" lengthAdjust="spacingAndGlyphs" fill="#1a1a1a" stroke="#1a1a1a" stroke-width="0.22">4</text>
<text x="203.10" y="456.00" font-size="9.0" textLength="5.11" lengthAdjust="spacingAndGlyphs" fill="#1a1a1a" stroke="#1a1a1a" stroke-width="0.22">1</text>
<text x="241.89" y="456.00" font-size="9.0" textLength="5.11" lengthAdjust="spacingAndGlyphs" fill="#1a1a1a" stroke="#1a1a1a" stroke-width="0.22">0</text>
<text x="14.89" y="469.20" font-size="9.0" textLength="27.99" lengthAdjust="spacingAndGlyphs" fill="#1a1a1a" stroke="#1a1a1a" stroke-width="0.22">mMUD</text>
<text x="48.50" y="469.20" font-size="9.0" textLength="5.11" lengthAdjust="spacingAndGlyphs" fill="#1a1a1a" stroke="#1a1a1a" stroke-width="0.22">2</text>
<text x="87.06" y="469.20" font-size="9.0" textLength="5.11" lengthAdjust="spacingAndGlyphs" fill="#1a1a1a" stroke="#1a1a1a" stroke-width="0.22">1</text>
<text x="125.85" y="469.20" font-size="9.0" textLength="5.11" lengthAdjust="spacingAndGlyphs" fill="#1a1a1a" stroke="#1a1a1a" stroke-width="0.22">0</text>
<text x="164.53" y="469.20" font-size="9.0" textLength="5.11" lengthAdjust="spacingAndGlyphs" fill="#1a1a1a" stroke="#1a1a1a" stroke-width="0.22">0</text>
<text x="203.21" y="469.20" font-size="9.0" textLength="5.11" lengthAdjust="spacingAndGlyphs" fill="#1a1a1a" stroke="#1a1a1a" stroke-width="0.22">0</text>
<text x="241.89" y="469.20" font-size="9.0" textLength="5.11" lengthAdjust="spacingAndGlyphs" fill="#1a1a1a" stroke="#1a1a1a" stroke-width="0.22">0</text>
<line x1="72.00" y1="483.50" x2="96.50" y2="483.50" stroke="#3d5b98" stroke-width="1.2"/>
<text x="99.99" y="486.20" font-size="9.4" textLength="20.47" lengthAdjust="spacingAndGlyphs" fill="#1a1a1a" stroke="#1a1a1a" stroke-width="0.22">MSD</text>
<line x1="168.00" y1="483.50" x2="193.50" y2="483.50" stroke="#bb2a50" stroke-width="1.2"/>
<text x="195.99" y="486.20" font-size="9.4" textLength="20.98" lengthAdjust="spacingAndGlyphs" fill="#1a1a1a" stroke="#1a1a1a" stroke-width="0.22">MUD</text>
<line x1="72.00" y1="496.50" x2="96.50" y2="496.50" stroke="#6fb24c" stroke-width="1.2"/>
<text x="100.03" y="499.20" font-size="9.4" textLength="54.80" lengthAdjust="spacingAndGlyphs" fill="#1a1a1a" stroke="#1a1a1a" stroke-width="0.22">Haploidentical</text>
<line x1="168.00" y1="496.50" x2="193.50" y2="496.50" stroke="#e9a23b" stroke-width="1.2"/>
<text x="196.13" y="499.20" font-size="9.4" textLength="28.65" lengthAdjust="spacingAndGlyphs" fill="#1a1a1a" stroke="#1a1a1a" stroke-width="0.22">mMUD</text>
<text x="268.13" y="254.00" font-size="13.6" textLength="10.38" lengthAdjust="spacingAndGlyphs" fill="#000" font-weight="bold" stroke="#000" stroke-width="0.3">D</text>
<line x1="307.90" y1="259.90" x2="307.90" y2="374.70" stroke="#111" stroke-width="1.4"/>
<line x1="307.25" y1="374.00" x2="509.50" y2="374.00" stroke="#111" stroke-width="1.4"/>
<line x1="304.70" y1="369.90" x2="307.90" y2="369.90" stroke="#111" stroke-width="1.1"/>
<text x="284.38" y="373.10" font-size="9.2" textLength="16.65" lengthAdjust="spacingAndGlyphs" fill="#1a1a1a" stroke="#1a1a1a" stroke-width="0.22">0.00</text>
<line x1="304.70" y1="343.92" x2="307.90" y2="343.92" stroke="#111" stroke-width="1.1"/>
<text x="284.40" y="347.12" font-size="9.2" textLength="16.65" lengthAdjust="spacingAndGlyphs" fill="#1a1a1a" stroke="#1a1a1a" stroke-width="0.22">0.25</text>
<line x1="304.70" y1="317.95" x2="307.90" y2="317.95" stroke="#111" stroke-width="1.1"/>
<text x="284.38" y="321.15" font-size="9.2" textLength="16.65" lengthAdjust="spacingAndGlyphs" fill="#1a1a1a" stroke="#1a1a1a" stroke-width="0.22">0.50</text>
<line x1="304.70" y1="291.98" x2="307.90" y2="291.98" stroke="#111" stroke-width="1.1"/>
<text x="284.40" y="295.18" font-size="9.2" textLength="16.65" lengthAdjust="spacingAndGlyphs" fill="#1a1a1a" stroke="#1a1a1a" stroke-width="0.22">0.75</text>
<line x1="304.70" y1="266.00" x2="307.90" y2="266.00" stroke="#111" stroke-width="1.1"/>
<text x="284.38" y="269.20" font-size="9.2" textLength="16.65" lengthAdjust="spacingAndGlyphs" fill="#1a1a1a" stroke="#1a1a1a" stroke-width="0.22">1.00</text>
<line x1="312.00" y1="374.00" x2="312.00" y2="377.50" stroke="#111" stroke-width="1.1"/>
<text x="309.56" y="388.80" font-size="9.2" textLength="4.86" lengthAdjust="spacingAndGlyphs" fill="#1a1a1a" stroke="#1a1a1a" stroke-width="0.22">0</text>
<line x1="350.76" y1="374.00" x2="350.76" y2="377.50" stroke="#111" stroke-width="1.1"/>
<text x="348.33" y="388.80" font-size="9.2" textLength="4.86" lengthAdjust="spacingAndGlyphs" fill="#1a1a1a" stroke="#1a1a1a" stroke-width="0.22">2</text>
<line x1="389.52" y1="374.00" x2="389.52" y2="377.50" stroke="#111" stroke-width="1.1"/>
<text x="387.12" y="388.80" font-size="9.2" textLength="4.86" lengthAdjust="spacingAndGlyphs" fill="#1a1a1a" stroke="#1a1a1a" stroke-width="0.22">4</text>
<line x1="428.28" y1="374.00" x2="428.28" y2="377.50" stroke="#111" stroke-width="1.1"/>
<text x="425.82" y="388.80" font-size="9.2" textLength="4.86" lengthAdjust="spacingAndGlyphs" fill="#1a1a1a" stroke="#1a1a1a" stroke-width="0.22">6</text>
<line x1="467.04" y1="374.00" x2="467.04" y2="377.50" stroke="#111" stroke-width="1.1"/>
<text x="464.61" y="388.80" font-size="9.2" textLength="4.86" lengthAdjust="spacingAndGlyphs" fill="#1a1a1a" stroke="#1a1a1a" stroke-width="0.22">8</text>
<line x1="505.80" y1="374.00" x2="505.80" y2="377.50" stroke="#111" stroke-width="1.1"/>
<text x="500.79" y="388.80" font-size="9.2" textLength="9.72" lengthAdjust="spacingAndGlyphs" fill="#1a1a1a" stroke="#1a1a1a" stroke-width="0.22">10</text>
<text transform="translate(277.80,317.30) rotate(-90)" x="-7.07" y="0" font-size="11.0" textLength="13.89" lengthAdjust="spacingAndGlyphs" fill="#1a1a1a" stroke="#1a1a1a" stroke-width="0.45">RFS</text>
<text x="389.14" y="403.00" font-size="10.2" textLength="39.99" lengthAdjust="spacingAndGlyphs" fill="#1a1a1a" stroke="#1a1a1a" stroke-width="0.5">Time (years)</text>
<path d="M312.50 266.50H314.50V267.50H316.50V268.50H317.50V272.50H320.50V275.50H323.50V275.50H325.50V278.50H328.50V281.50H329.50V285.50H331.50V287.50H334.50V289.50H349.50V291.50H351.50V294.50H353.50V297.50H383.50V300.50H419.50V304.50H494.50" fill="none" stroke="#3d5b98" stroke-width="1.25"/>
<path d="M312.50 266.50H312.50V273.50H322.50V280.50H331.50V295.50H344.50V303.50H443.50" fill="none" stroke="#bb2a50" stroke-width="1.25"/>
<line x1="326.50" y1="276.80" x2="326.50" y2="278.70" stroke="#222" stroke-width="1.0"/>
<line x1="330.50" y1="283.80" x2="330.50" y2="285.70" stroke="#222" stroke-width="1.0"/>
<line x1="336.50" y1="287.80" x2="336.50" y2="289.70" stroke="#222" stroke-width="1.0"/>
<line x1="339.50" y1="287.80" x2="339.50" y2="289.70" stroke="#222" stroke-width="1.0"/>
<line x1="341.50" y1="287.80" x2="341.50" y2="289.70" stroke="#222" stroke-width="1.0"/>
<line x1="348.50" y1="287.80" x2="348.50" y2="289.70" stroke="#222" stroke-width="1.0"/>
<line x1="356.50" y1="295.80" x2="356.50" y2="297.70" stroke="#222" stroke-width="1.0"/>
<line x1="362.50" y1="295.80" x2="362.50" y2="297.70" stroke="#222" stroke-width="1.0"/>
<line x1="366.50" y1="295.80" x2="366.50" y2="297.70" stroke="#222" stroke-width="1.0"/>
<line x1="371.50" y1="295.80" x2="371.50" y2="297.70" stroke="#222" stroke-width="1.0"/>
<line x1="376.50" y1="295.80" x2="376.50" y2="297.70" stroke="#222" stroke-width="1.0"/>
<line x1="381.50" y1="295.80" x2="381.50" y2="297.70" stroke="#222" stroke-width="1.0"/>
<line x1="390.50" y1="298.80" x2="390.50" y2="300.70" stroke="#222" stroke-width="1.0"/>
<line x1="395.50" y1="298.80" x2="395.50" y2="300.70" stroke="#222" stroke-width="1.0"/>
<line x1="402.50" y1="298.80" x2="402.50" y2="300.70" stroke="#222" stroke-width="1.0"/>
<line x1="408.50" y1="298.80" x2="408.50" y2="300.70" stroke="#222" stroke-width="1.0"/>
<line x1="420.50" y1="302.80" x2="420.50" y2="304.70" stroke="#222" stroke-width="1.0"/>
<line x1="425.50" y1="302.80" x2="425.50" y2="304.70" stroke="#222" stroke-width="1.0"/>
<line x1="434.50" y1="302.80" x2="434.50" y2="304.70" stroke="#222" stroke-width="1.0"/>
<line x1="445.50" y1="302.80" x2="445.50" y2="304.70" stroke="#222" stroke-width="1.0"/>
<line x1="452.50" y1="302.80" x2="452.50" y2="304.70" stroke="#222" stroke-width="1.0"/>
<line x1="460.50" y1="302.80" x2="460.50" y2="304.70" stroke="#222" stroke-width="1.0"/>
<line x1="475.50" y1="302.80" x2="475.50" y2="304.70" stroke="#222" stroke-width="1.0"/>
<line x1="487.50" y1="302.80" x2="487.50" y2="304.70" stroke="#222" stroke-width="1.0"/>
<line x1="494.50" y1="302.80" x2="494.50" y2="304.70" stroke="#222" stroke-width="1.0"/>
<line x1="344.50" y1="293.80" x2="344.50" y2="295.70" stroke="#222" stroke-width="1.0"/>
<line x1="392.50" y1="301.80" x2="392.50" y2="303.70" stroke="#222" stroke-width="1.0"/>
<line x1="400.50" y1="301.80" x2="400.50" y2="303.70" stroke="#222" stroke-width="1.0"/>
<line x1="416.50" y1="301.80" x2="416.50" y2="303.70" stroke="#222" stroke-width="1.0"/>
<line x1="430.50" y1="301.80" x2="430.50" y2="303.70" stroke="#222" stroke-width="1.0"/>
<line x1="438.50" y1="301.80" x2="438.50" y2="303.70" stroke="#222" stroke-width="1.0"/>
<line x1="443.50" y1="301.80" x2="443.50" y2="303.70" stroke="#222" stroke-width="1.0"/>
<rect x="400.00" y="280.80" width="107.70" height="13.10" fill="#fff" stroke="#222" stroke-width="1.3"/>
<text x="404.76" y="289.55" font-size="6.3" textLength="98.24" lengthAdjust="spacingAndGlyphs" fill="#222">5-yr RFS=66.6%, 95% CI 50.9-78.4%</text>
<line x1="399.80" y1="289.00" x2="394.31" y2="291.64" stroke="#111" stroke-width="1.1"/>
<path d="M389.80 293.80L393.63 289.08L395.88 293.76Z" fill="#111"/>
<rect x="400.90" y="308.50" width="107.80" height="13.40" fill="#fff" stroke="#222" stroke-width="1.3"/>
<text x="405.97" y="317.40" font-size="6.3" textLength="97.64" lengthAdjust="spacingAndGlyphs" fill="#222">5-yr RFS=63.4%, 95% CI 33.0-82.9%</text>
<line x1="400.90" y1="316.00" x2="396.96" y2="310.07" stroke="#111" stroke-width="1.1"/>
<path d="M394.20 305.90L399.41 309.05L395.07 311.92Z" fill="#111"/>
<text x="288.56" y="416.80" font-size="9.0" textLength="54.69" lengthAdjust="spacingAndGlyphs" fill="#1a1a1a" stroke="#1a1a1a" stroke-width="0.22">Number at risk</text>
<text x="306.91" y="429.80" font-size="9.0" textLength="10.21" lengthAdjust="spacingAndGlyphs" fill="#1a1a1a" stroke="#1a1a1a" stroke-width="0.22">55</text>
<text x="345.71" y="429.80" font-size="9.0" textLength="10.21" lengthAdjust="spacingAndGlyphs" fill="#1a1a1a" stroke="#1a1a1a" stroke-width="0.22">31</text>
<text x="384.41" y="429.80" font-size="9.0" textLength="10.21" lengthAdjust="spacingAndGlyphs" fill="#1a1a1a" stroke="#1a1a1a" stroke-width="0.22">21</text>
<text x="423.01" y="429.80" font-size="9.0" textLength="10.21" lengthAdjust="spacingAndGlyphs" fill="#1a1a1a" stroke="#1a1a1a" stroke-width="0.22">10</text>
<text x="464.52" y="429.80" font-size="9.0" textLength="5.11" lengthAdjust="spacingAndGlyphs" fill="#1a1a1a" stroke="#1a1a1a" stroke-width="0.22">4</text>
<text x="503.24" y="429.80" font-size="9.0" textLength="5.11" lengthAdjust="spacingAndGlyphs" fill="#1a1a1a" stroke="#1a1a1a" stroke-width="0.22">0</text>
<text x="306.69" y="442.80" font-size="9.0" textLength="10.21" lengthAdjust="spacingAndGlyphs" fill="#1a1a1a" stroke="#1a1a1a" stroke-width="0.22">14</text>
<text x="348.21" y="442.80" font-size="9.0" textLength="5.11" lengthAdjust="spacingAndGlyphs" fill="#1a1a1a" stroke="#1a1a1a" stroke-width="0.22">8</text>
<text x="386.94" y="442.80" font-size="9.0" textLength="5.11" lengthAdjust="spacingAndGlyphs" fill="#1a1a1a" stroke="#1a1a1a" stroke-width="0.22">6</text>
<text x="425.73" y="442.80" font-size="9.0" textLength="5.11" lengthAdjust="spacingAndGlyphs" fill="#1a1a1a" stroke="#1a1a1a" stroke-width="0.22">2</text>
<text x="464.48" y="442.80" font-size="9.0" textLength="5.11" lengthAdjust="spacingAndGlyphs" fill="#1a1a1a" stroke="#1a1a1a" stroke-width="0.22">0</text>
<text x="503.24" y="442.80" font-size="9.0" textLength="5.11" lengthAdjust="spacingAndGlyphs" fill="#1a1a1a" stroke="#1a1a1a" stroke-width="0.22">0</text>
<polyline points="282.30,424.10 276.70,426.80 282.30,429.50" fill="none" stroke="#1a1a1a" stroke-width="0.95" stroke-linejoin="miter"/>
<text x="282.53" y="429.80" font-size="9.0" textLength="10.44" lengthAdjust="spacingAndGlyphs" fill="#1a1a1a" stroke="#1a1a1a" stroke-width="0.22">60</text>
<polyline points="276.50,437.00 282.30,439.70 276.50,442.40" fill="none" stroke="#1a1a1a" stroke-width="0.95" stroke-linejoin="miter"/>
<line x1="282.00" y1="438.80" x2="288.20" y2="438.80" stroke="#1a1a1a" stroke-width="0.95"/>
<line x1="282.00" y1="440.80" x2="288.20" y2="440.80" stroke="#1a1a1a" stroke-width="0.95"/>
<text x="288.23" y="442.80" font-size="9.0" textLength="10.44" lengthAdjust="spacingAndGlyphs" fill="#1a1a1a" stroke="#1a1a1a" stroke-width="0.22">60</text>
<line x1="336.25" y1="483.30" x2="360.75" y2="483.30" stroke="#3d5b98" stroke-width="1.2"/>
<text x="365.28" y="486.30" font-size="9.0" textLength="15.10" lengthAdjust="spacingAndGlyphs" fill="#1a1a1a" stroke="#1a1a1a" stroke-width="0.22">Age</text>
<polyline points="388.10,480.20 382.60,482.90 388.10,485.60" fill="none" stroke="#1a1a1a" stroke-width="0.95" stroke-linejoin="miter"/>
<text x="390.55" y="486.30" font-size="9.0" textLength="10.12" lengthAdjust="spacingAndGlyphs" fill="#1a1a1a" stroke="#1a1a1a" stroke-width="0.22">60</text>
<line x1="411.25" y1="483.10" x2="436.25" y2="483.10" stroke="#bb2a50" stroke-width="1.2"/>
<text x="440.48" y="486.10" font-size="9.0" textLength="14.89" lengthAdjust="spacingAndGlyphs" fill="#1a1a1a" stroke="#1a1a1a" stroke-width="0.22">Age</text>
<polyline points="457.60,480.40 463.20,483.10 457.60,485.80" fill="none" stroke="#1a1a1a" stroke-width="0.95" stroke-linejoin="miter"/>
<line x1="462.90" y1="482.30" x2="469.30" y2="482.30" stroke="#1a1a1a" stroke-width="0.95"/>
<line x1="462.90" y1="484.30" x2="469.30" y2="484.30" stroke="#1a1a1a" stroke-width="0.95"/>
<text x="471.97" y="486.10" font-size="9.0" textLength="9.57" lengthAdjust="spacingAndGlyphs" fill="#1a1a1a" stroke="#1a1a1a" stroke-width="0.22">60</text>
<rect x="0" y="0" width="520" height="1.15" fill="#000"/>
<rect x="0" y="0" width="1.3" height="508" fill="#000"/>
<rect x="518.65" y="0" width="1.35" height="508" fill="#000"/>
<rect x="0" y="506.4" width="520" height="1.6" fill="#000"/>
</svg></body></html>
